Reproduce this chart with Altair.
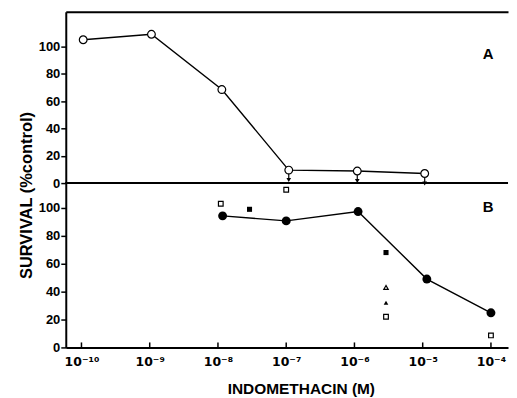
import altair as alt
import pandas as pd

# ---- data ----
conc_a = [1.06e-10, 1.06e-9, 1.14e-8, 1.09e-7, 1.1e-6, 1.07e-5]
surv_a = [105, 109, 68.5, 9.5, 8.8, 7.0]
upper_a = [False, False, False, True, True, True]

conc_b = [1.17e-8, 1e-7, 1.13e-6, 1.15e-5, 1e-4]
surv_b = [94.3, 90.7, 97.4, 49.0, 24.8]

open_sq_x = [1.1e-8, 1e-7, 2.9e-6, 1e-4]
open_sq_y = [103, 113, 22, 8.6]
fill_sq_x = [2.9e-8, 2.9e-6]
fill_sq_y = [99, 68]
open_tri_x = [2.9e-6]
open_tri_y = [43]
fill_tri_x = [2.9e-6]
fill_tri_y = [32]

tick_values = [1e-10, 1e-9, 1e-8, 1e-7, 1e-6, 1e-5, 1e-4]
tick_labels = ["10⁻¹⁰", "10⁻⁹", "10⁻⁸", "10⁻⁷", "10⁻⁶", "10⁻⁵", "10⁻⁴"]
y_ticks = [0, 20, 40, 60, 80, 100]

FONT = "Liberation Sans"
W = 444
HA = 172
HB = 165

xdom = [10 ** -10.23, 10 ** -3.75]
xscale = alt.Scale(type="log", domain=xdom, nice=False)

label_expr = ""
for i, (v, l) in enumerate(zip(tick_values, tick_labels)):
    if i < len(tick_values) - 1:
        label_expr += f"datum.value < {v * 3:.3e} ? '{l}' : "
    else:
        label_expr += f"'{l}'"

dfa = pd.DataFrame({"c": conc_a, "s": surv_a, "up": upper_a})
dfb = pd.DataFrame({"c": conc_b, "s": surv_b})
sq_o = pd.DataFrame({"c": open_sq_x, "s": open_sq_y})
sq_f = pd.DataFrame({"c": fill_sq_x, "s": fill_sq_y})
tr_o = pd.DataFrame({"c": open_tri_x, "s": open_tri_y})
tr_f = pd.DataFrame({"c": fill_tri_x, "s": fill_tri_y})
ticks_df = pd.DataFrame({"c": tick_values})

yaxis_common = dict(
    values=y_ticks, grid=False, domainColor="black", domainWidth=2,
    tickColor="black", tickWidth=1.5, tickSize=5, labelOverlap=False,
    labelFont=FONT, labelFontSize=13, labelFontWeight="bold", labelColor="black",
    labelPadding=1,
)

ya = alt.Scale(domain=[0, 125.5], nice=False)
yb = alt.Scale(domain=[0, 117.8], nice=False)

# ---------- panel A ----------
xa_axis = alt.Axis(orient="top", labels=False, ticks=False, title=None, grid=False,
                   domainColor="black", domainWidth=2)
ya_axis = alt.Axis(title="SURVIVAL (%control)", titleFont=FONT, titleFontSize=16.5,
                   titleFontWeight="bold", titleColor="black", titleX=-39, titleY=184,
                   titleAngle=270, titleAlign="center", titleBaseline="middle",
                   **yaxis_common)

XA = alt.X("c:Q", scale=xscale, axis=xa_axis)
YA = alt.Y("s:Q", scale=ya, axis=ya_axis)

line_a = alt.Chart(dfa).mark_line(color="black", strokeWidth=1.4).encode(x=XA, y=YA)
pts_a = alt.Chart(dfa).mark_point(shape="circle", size=60, filled=True, fill="white",
                                  stroke="black", strokeWidth=1.2, opacity=1).encode(x=XA, y=YA)
arr_rule = alt.Chart(dfa).transform_filter("datum.up").mark_rule(
    color="black", strokeWidth=1.2, yOffset=4, y2Offset=10
).encode(x=XA, y=YA, y2="s:Q")
arr_head = alt.Chart(dfa).transform_filter("datum.up").mark_point(
    shape="triangle-down", size=22, filled=True, color="black", yOffset=10, opacity=1
).encode(x=XA, y=YA)
zero_a = alt.Chart(dfa).mark_rule(color="black", strokeWidth=2).encode(y=alt.value(HA))
lab_a = alt.Chart(dfa.head(1)).mark_text(text="A", font=FONT, fontSize=15, fontWeight="bold",
                                         color="black").encode(
    x=alt.value(424), y=alt.value(42))

panel_a = alt.layer(line_a, arr_rule, arr_head, pts_a, zero_a, lab_a).properties(width=W, height=HA)

# ---------- panel B ----------
xb_axis = alt.Axis(values=tick_values, labelExpr=label_expr, ticks=False, grid=False,
                   domainColor="black", domainWidth=2, labelOverlap=False,
                   labelFont="DejaVu Sans", labelFontSize=12.5, labelFontWeight="bold",
                   labelColor="black", labelPadding=8,
                   title="INDOMETHACIN (M)", titleFont=FONT, titleFontSize=15.5,
                   titleFontWeight="bold", titleColor="black", titleX=236, titleY=41,
                   titleBaseline="middle")
yb_axis = alt.Axis(title=None, **yaxis_common)

XB = alt.X("c:Q", scale=xscale, axis=xb_axis)
YB = alt.Y("s:Q", scale=yb, axis=yb_axis)

line_b = alt.Chart(dfb).mark_line(color="black", strokeWidth=1.4).encode(x=XB, y=YB)
pts_b = alt.Chart(dfb).mark_point(shape="circle", size=80, filled=True, color="black",
                                  opacity=1).encode(x=XB, y=YB)

def small(df, shape, filled, size):
    kw = dict(shape=shape, size=size, opacity=1, strokeWidth=1.2)
    if filled:
        kw.update(filled=True, color="black")
    else:
        kw.update(filled=True, fill="white", stroke="black")
    return alt.Chart(df).mark_point(**kw).encode(x=XB, y=YB)

sqo = small(sq_o, "square", False, 22)
sqf = small(sq_f, "square", True, 26)
tro = small(tr_o, "triangle-up", False, 20)
trf = small(tr_f, "triangle-up", True, 22)

inticks = alt.Chart(ticks_df).mark_rule(color="black", strokeWidth=1.5).encode(
    x=XB, y=alt.value(HB), y2=alt.value(HB - 5))
lab_b = alt.Chart(dfb.head(1)).mark_text(text="B", font=FONT, fontSize=15, fontWeight="bold",
                                         color="black").encode(
    x=alt.value(424), y=alt.value(24))

panel_b = alt.layer(line_b, pts_b, sqo, sqf, tro, trf, inticks, lab_b).properties(width=W, height=HB)

chart = alt.vconcat(panel_a, panel_b, spacing=0, bounds="flush").properties(
    padding={"left": 11, "top": 3, "right": 0, "bottom": 0},
    background="white",
).configure_view(strokeWidth=0)

chart.save("out.html", embed_options={"renderer": "svg", "actions": False})
